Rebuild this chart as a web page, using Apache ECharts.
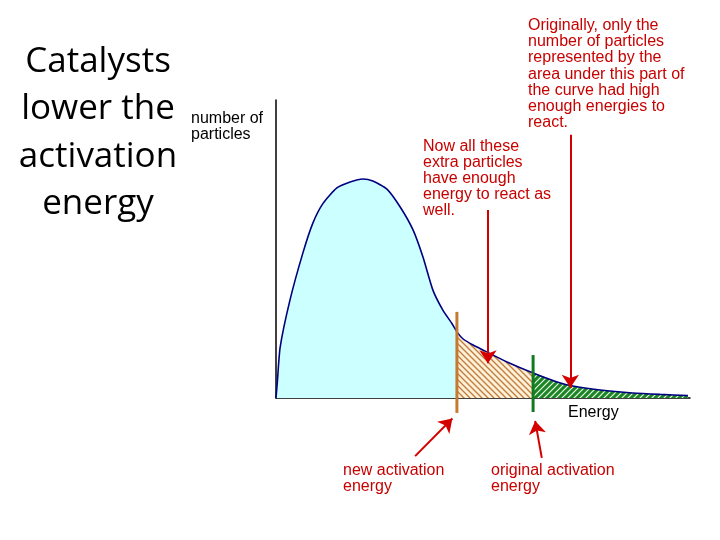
<!DOCTYPE html>
<html><head><meta charset="utf-8">
<script src="https://cdn.jsdelivr.net/npm/echarts@6/dist/echarts.min.js"></script>
<style>html,body{margin:0;padding:0;background:#fff}#c{width:720px;height:540px}</style>
</head><body><div id="c"></div>
<script>
// ---- data (arbitrary units) ----
const energy    = [0, 0.3, 1.0, 3.4, 6.5, 8.9, 11.4, 14.7, 17.9, 21.0, 23.4, 26.8, 30.0, 33.1, 35.5, 37.9, 40.3, 42.5, 43.7, 45.2, 47.6, 51.0, 55.8, 62.1, 67.9, 71.7, 78.3, 86.2, 92.8, 99.5];
const particles = [0, 5.0, 17.0, 33.0, 48.7, 58.7, 65.4, 70.5, 72.5, 73.5, 72.8, 70.1, 64.1, 56.4, 47.3, 36.2, 29.5, 25.0, 22.2, 19.8, 17.8, 15.4, 12.1, 8.4, 5.4, 4.0, 2.7, 1.7, 1.2, 0.8];
const newActivation = 43.7;
const originalActivation = 62.1;
const newMarkerRange = [28.9, -5.0];
const origMarkerRange = [14.4, -4.7];
// annotation arrows: [startEnergy, startValue, endEnergy, endValue]
const arrows = [
  [51.2, 63.1, 51.2, 11.7],
  [71.1, 88.3, 71.1, 3.4],
  [33.6, -19.5, 42.6, -6.9],
  [64.2, -20.1, 62.6, -7.7]
];
const titleLines = ['Catalysts', 'lower the', 'activation', 'energy'];
const yAxisName = ['number of', 'particles'];
const xAxisName = 'Energy';
const noteOriginal = ['Originally, only the', 'number of particles', 'represented by the', 'area under this part of', 'the curve had high', 'enough energies to', 'react.'];
const noteExtra = ['Now all these', 'extra particles', 'have enough', 'energy to react as', 'well.'];
const noteBelow = ['particles which', "don't have", 'enough energy', 'to react'];
const noteNew = ['new activation', 'energy'];
const noteOrig = ['original activation', 'energy'];

// ---- helpers ----
const pts = energy.map((e, i) => [e, particles[i]]);
const seg = (a, b) => pts.filter(p => p[0] >= a && p[0] <= b);

function hatch(bg, fg, dir, s, lw) {
  const c = document.createElement('canvas');
  c.width = c.height = s;
  const g = c.getContext('2d');
  g.fillStyle = bg; g.fillRect(0, 0, s, s);
  g.strokeStyle = fg; g.lineWidth = lw;
  g.beginPath();
  if (dir === '/') {
    g.moveTo(-1, s + 1); g.lineTo(s + 1, -1);
    g.moveTo(-1, 1); g.lineTo(1, -1);
    g.moveTo(s - 1, s + 1); g.lineTo(s + 1, s - 1);
  } else {
    g.moveTo(-1, -1); g.lineTo(s + 1, s + 1);
    g.moveTo(s - 1, -1); g.lineTo(s + 1, 1);
    g.moveTo(-1, s - 1); g.lineTo(1, s + 1);
  }
  g.stroke();
  return c;
}

const RED = '#c80000';
const redFont = '16px "Liberation Sans", Arial, sans-serif';
function note(lines, x, y, color, lh) {
  return { type: 'text', x: x, y: y, silent: true,
    style: { text: lines.join('\n'), font: redFont, fill: color || RED,
      lineHeight: lh || 16.2, textAlign: 'left', textVerticalAlign: 'top' } };
}
const graphics = [];
const titleTop = [38, 85.5, 133, 180.5];
titleLines.forEach((t, i) => {
  graphics.push({ type: 'text', x: 98, y: titleTop[i], silent: true,
    style: { text: t, font: '35px "Open Sans", sans-serif', fill: '#000',
      textAlign: 'center', textVerticalAlign: 'top', lineHeight: 48 } });
});
graphics.push(note(yAxisName, 191, 111, '#000', 16));
graphics.push(note([xAxisName], 568, 405, '#000', 16));
graphics.push(note(noteOriginal, 528, 17.5));
graphics.push(note(noteExtra, 423, 138));
graphics.push(note(noteBelow, 309, 284, RED, 16));
graphics.push(note(noteNew, 343, 463, RED, 16));
graphics.push(note(noteOrig, 491, 463, RED, 16));

const chart = echarts.init(document.getElementById('c'), null, { renderer: 'canvas' });
chart.setOption({
  animation: false,
  backgroundColor: '#fff',
  grid: { left: 276, top: 100, width: 414, height: 298 },
  xAxis: { type: 'value', min: 0, max: 100, axisLine: { onZero: false, lineStyle: { color: '#000', width: 1.5 } },
    axisTick: { show: false }, axisLabel: { show: false }, splitLine: { show: false } },
  yAxis: { type: 'value', min: 0, max: 100, axisLine: { show: true, onZero: false, lineStyle: { color: '#000', width: 1.5 } },
    axisTick: { show: false }, axisLabel: { show: false }, splitLine: { show: false } },
  graphic: graphics,
  series: [
    { type: 'line', data: seg(0, newActivation), symbol: 'none', smooth: 0.2, z: 1,
      lineStyle: { width: 0 }, areaStyle: { color: '#ccffff', opacity: 1 } },
    { type: 'line', data: seg(newActivation, originalActivation), symbol: 'none', smooth: 0.2, z: 1,
      lineStyle: { width: 0 },
      areaStyle: { color: { image: hatch('#fff0d8', '#c07a3c', '\\', 6, 1.3), repeat: 'repeat' }, opacity: 1 } },
    { type: 'line', data: seg(originalActivation, 100), symbol: 'none', smooth: 0.2, z: 1,
      lineStyle: { width: 0 },
      areaStyle: { color: { image: hatch('#1c8424', '#e8ffe8', '/', 6, 1.2), repeat: 'repeat' }, opacity: 1 } },
    { type: 'line', data: pts, symbol: 'none', smooth: 0.2, z: 3,
      lineStyle: { color: '#000080', width: 1.6 } },
    { type: 'line', data: newMarkerRange.map(v => [newActivation, v]), symbol: 'none', clip: false, z: 4,
      lineStyle: { color: '#c47a30', width: 3 } },
    { type: 'line', data: origMarkerRange.map(v => [originalActivation, v]), symbol: 'none', clip: false, z: 4,
      lineStyle: { color: '#127a1e', width: 3 } },
    { type: 'lines', coordinateSystem: 'cartesian2d', clip: false, z: 5,
      symbol: ['none', 'arrow'], symbolSize: 13,
      lineStyle: { color: '#d40000', width: 2, opacity: 1 },
      data: arrows.map(a => ({ coords: [[a[0], a[1]], [a[2], a[3]]] })) }
  ]
});
</script></body></html>
